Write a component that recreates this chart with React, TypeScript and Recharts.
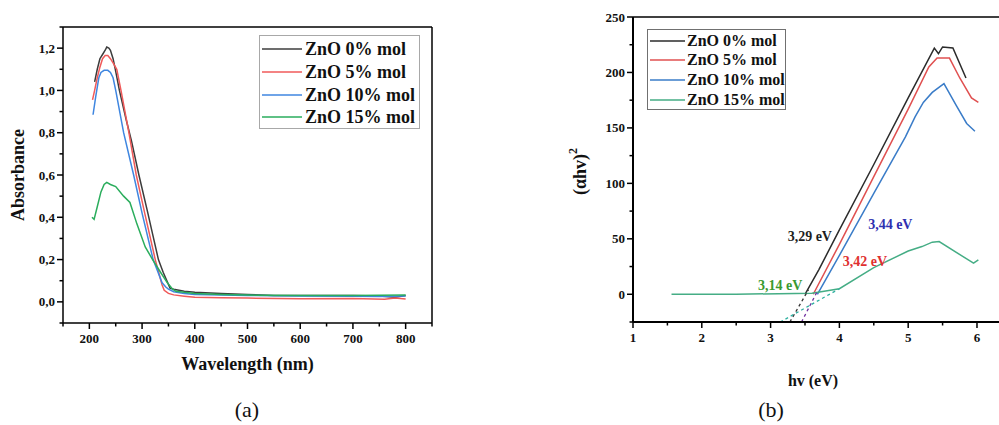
import React from 'react';
import { LineChart, Line, XAxis, YAxis, Legend, ReferenceDot } from 'recharts';

const FONT = "'Liberation Serif', 'Times New Roman', Times, serif";

// ---------- Panel (a): Absorbance vs wavelength ----------
const namesA = ['ZnO 0% mol', 'ZnO 5% mol', 'ZnO 10% mol', 'ZnO 15% mol'];
const colorsA = ['#3c3c3c', '#f05a5a', '#3f86e0', '#2aad5c'];

const wl0 = [210, 215, 220, 225, 230, 233, 237, 240, 245, 250, 257, 270, 280, 294, 310, 320, 331, 340, 353, 360, 370, 380, 400, 450, 500, 550, 600, 650, 700, 750, 780, 800];
const abs0 = [1.04, 1.1, 1.15, 1.17, 1.19, 1.205, 1.2, 1.19, 1.15, 1.09, 1.0, 0.86, 0.76, 0.6, 0.43, 0.32, 0.2, 0.14, 0.065, 0.06, 0.055, 0.05, 0.045, 0.04, 0.035, 0.03, 0.03, 0.03, 0.03, 0.028, 0.022, 0.03];

const wl5 = [206, 210, 215, 220, 225, 230, 235, 240, 245, 252, 260, 275, 289, 305, 325, 338, 342, 350, 360, 380, 400, 450, 500, 600, 700, 760, 780, 800];
const abs5 = [0.955, 1.0, 1.06, 1.11, 1.15, 1.165, 1.165, 1.15, 1.13, 1.1, 1.0, 0.8, 0.6, 0.42, 0.2, 0.08, 0.055, 0.04, 0.033, 0.027, 0.022, 0.02, 0.018, 0.015, 0.016, 0.012, 0.018, 0.013];

const wl10 = [207, 212, 218, 222, 228, 235, 240, 245, 250, 265, 284, 300, 321, 338, 345, 350, 360, 380, 400, 450, 500, 600, 700, 750, 800];
const abs10 = [0.885, 0.97, 1.06, 1.085, 1.095, 1.095, 1.085, 1.06, 1.0, 0.8, 0.6, 0.42, 0.2, 0.09, 0.07, 0.06, 0.048, 0.04, 0.035, 0.033, 0.03, 0.028, 0.027, 0.025, 0.028];

const wl15 = [205, 209, 215, 222, 228, 233, 240, 250, 265, 277, 290, 306, 320, 335, 348, 358, 364, 380, 400, 450, 500, 600, 700, 800];
const abs15 = [0.4, 0.39, 0.45, 0.52, 0.555, 0.565, 0.555, 0.545, 0.5, 0.47, 0.37, 0.26, 0.2, 0.14, 0.09, 0.06, 0.05, 0.045, 0.04, 0.035, 0.032, 0.03, 0.03, 0.032];

const xMajorA = [200, 300, 400, 500, 600, 700, 800];
const xMinorA = [150, 250, 350, 450, 550, 650, 750, 850];
const yMajorA = [0, 0.2, 0.4, 0.6, 0.8, 1.0, 1.2];
const yMinorA = [-0.1, 0.1, 0.3, 0.5, 0.7, 0.9, 1.1, 1.3];

// ---------- Panel (b): Tauc plot ----------
const namesB = ['ZnO 0% mol', 'ZnO 5% mol', 'ZnO 10% mol', 'ZnO 15% mol'];
const colorsB = ['#2b2b2b', '#e05050', '#3a7cc8', '#45ad85'];

const hv0 = [3.5, 3.7, 4.0, 4.5, 5.0, 5.38, 5.44, 5.5, 5.65, 5.84];
const ah0 = [0, 22, 58, 117, 177, 222, 217, 223, 222, 195];

const hv5 = [3.62, 4.0, 4.5, 5.0, 5.3, 5.42, 5.6, 5.75, 5.92, 6.02];
const ah5 = [0, 45, 106, 167, 205, 213, 213, 195, 177, 173];

const hv10 = [3.68, 4.0, 4.5, 4.96, 5.1, 5.22, 5.35, 5.52, 5.7, 5.85, 5.97];
const ah10 = [0, 35, 91, 142, 160, 173, 182, 190, 170, 154, 147];

const hv15 = [1.56, 2.5, 3.6, 3.8, 4.0, 4.5, 5.0, 5.2, 5.35, 5.45, 5.95, 6.02];
const ah15 = [0, 0, 1, 3, 5, 24, 39, 43, 47, 47.5, 28, 31];

const fitHv0 = [3.28, 3.55];
const fitAh0 = [-25, 4];
const fitHv5 = [3.45, 3.69];
const fitAh5 = [-25, 4];
const fitHv15 = [3.14, 4.0];
const fitAh15 = [-25, 5];

const gapLabels = ['3,29 eV', '3,44 eV', '3,42 eV', '3,14 eV'];
const gapLabelHv = [3.57, 4.74, 4.37, 3.14];
const gapLabelAh = [52, 63, 30, 8];
const gapLabelColors = ['#1e1e1e', '#3030b0', '#e03030', '#3a9a30'];

const xMajorB = [1, 2, 3, 4, 5, 6];
const xMinorB = [1.5, 2.5, 3.5, 4.5, 5.5];
const yMajorB = [0, 50, 100, 150, 200, 250];
const yMinorB = [-25, 25, 75, 125, 175, 225];

const toPts = (xs: number[], ys: number[]) => xs.map((x, i) => ({ x, y: ys[i] }));

const dataA = [toPts(wl0, abs0), toPts(wl5, abs5), toPts(wl10, abs10), toPts(wl15, abs15)];
const dataB = [toPts(hv0, ah0), toPts(hv5, ah5), toPts(hv10, ah10), toPts(hv15, ah15)];
const fitB = [
  { pts: toPts(fitHv0, fitAh0), color: '#333333' },
  { pts: toPts(fitHv5, fitAh5), color: '#7030a0' },
  { pts: toPts(fitHv15, fitAh15), color: '#2fb0a0' },
];

const isIn = (arr: number[], v: number) => arr.some((m) => Math.abs(m - v) < 1e-9);

const makeBottomTick = (majors: number[], fmt: (v: number) => string) => (props: any) => {
  const { x, y, payload } = props;
  const major = isIn(majors, payload.value);
  return (
    <g>
      <line x1={x} x2={x} y1={y} y2={y + (major ? 6 : 3.5)} stroke="#000" strokeWidth={1.5} />
      {major && (
        <text x={x} y={y + 15} textAnchor="middle" dominantBaseline="central" fontFamily={FONT} fontWeight="bold" fontSize={13} fill="#111">
          {fmt(payload.value)}
        </text>
      )}
    </g>
  );
};

const makeLeftTick = (majors: number[], fmt: (v: number) => string) => (props: any) => {
  const { x, y, payload } = props;
  const major = isIn(majors, payload.value);
  return (
    <g>
      <line x1={x} x2={x - (major ? 6 : 3.5)} y1={y} y2={y} stroke="#000" strokeWidth={1.5} />
      {major && (
        <text x={x - 8} y={y} textAnchor="end" dominantBaseline="central" fontFamily={FONT} fontWeight="bold" fontSize={13} fill="#111">
          {fmt(payload.value)}
        </text>
      )}
    </g>
  );
};

const makeLegend = (order: string[], opts: { rowH: number; padTop: number; lineLen: number; fontSize: number; border: string; width: number; height: number; gap: number }) =>
  (props: any) => {
    const items = (props.payload || [])
      .filter((p: any) => p.type !== 'none' && order.includes(p.value))
      .sort((a: any, b: any) => order.indexOf(a.value) - order.indexOf(b.value));
    return (
      <div
        style={{
          boxSizing: 'border-box',
          width: opts.width,
          height: opts.height,
          border: `1.5px solid ${opts.border}`,
          paddingTop: opts.padTop,
          background: '#fff',
        }}
      >
        {items.map((it: any) => (
          <div key={it.value} style={{ display: 'flex', alignItems: 'center', height: opts.rowH }}>
            <svg width={opts.lineLen + 3} height={4} style={{ display: 'block', flex: 'none' }}>
              <line x1={2} x2={opts.lineLen + 2} y1={2} y2={2} stroke={it.color} strokeWidth={1.5} />
            </svg>
            <span
              style={{
                marginLeft: opts.gap,
                fontFamily: FONT,
                fontWeight: 'bold',
                fontSize: opts.fontSize,
                color: '#111',
                whiteSpace: 'nowrap',
                lineHeight: 1,
              }}
            >
              {it.value}
            </span>
          </div>
        ))}
      </div>
    );
  };

const fmtA = (v: number) => v.toFixed(1).replace('.', ',');
const fmtB = (v: number) => String(v);

const LegendA = makeLegend(namesA, { rowH: 22.7, padTop: 2, lineLen: 40, fontSize: 18, border: '#a8a8a8', width: 161, height: 94, gap: 2 });
const LegendB = makeLegend(namesB, { rowH: 19.6, padTop: 1, lineLen: 35, fontSize: 16, border: '#707070', width: 139, height: 81, gap: 1 });

const ChartA = () => (
  <LineChart width={450} height={425} margin={{ top: 26, right: 17, bottom: 0, left: 0 }}>
    <XAxis
      dataKey="x"
      type="number"
      domain={[150, 850]}
      allowDataOverflow
      ticks={[...xMajorA, ...xMinorA].sort((a, b) => a - b)}
      interval={0}
      tickSize={0}
      tickMargin={0}
      height={102}
      tick={makeBottomTick(xMajorA, (v) => String(v))}
      tickLine={false}
      axisLine={{ stroke: '#000', strokeWidth: 1.5 }}
      label={{
        content: (p: any) => {
          const vb = p.viewBox;
          return (
            <text x={vb.x + vb.width / 2} y={vb.y + 41} textAnchor="middle" dominantBaseline="central" fontFamily={FONT} fontWeight="bold" fontSize={18} fill="#111">
              Wavelength (nm)
            </text>
          );
        },
      }}
    />
    <XAxis xAxisId="top" orientation="top" type="number" domain={[150, 850]} height={1} tick={false} tickLine={false} axisLine={{ stroke: '#000', strokeWidth: 1.5 }} />
    <YAxis
      type="number"
      domain={[-0.1, 1.3]}
      allowDataOverflow
      ticks={[...yMajorA, ...yMinorA].sort((a, b) => a - b)}
      interval={0}
      tickSize={0}
      tickMargin={0}
      width={63}
      tick={makeLeftTick(yMajorA, fmtA)}
      tickLine={false}
      axisLine={{ stroke: '#000', strokeWidth: 1.5 }}
      label={{
        content: (p: any) => {
          const vb = p.viewBox;
          const cx = vb.x + 18;
          const cy = vb.y + vb.height / 2;
          return (
            <text x={cx} y={cy} transform={`rotate(-90 ${cx} ${cy})`} textAnchor="middle" dominantBaseline="central" fontFamily={FONT} fontWeight="bold" fontSize={18} fill="#111">
              Absorbance
            </text>
          );
        },
      }}
    />
    <YAxis yAxisId="right" orientation="right" type="number" domain={[-0.1, 1.3]} width={1} tick={false} tickLine={false} axisLine={{ stroke: '#000', strokeWidth: 1.5 }} />
    {dataA.map((d, i) => (
      <Line key={namesA[i]} data={d} dataKey="y" name={namesA[i]} type="linear" stroke={colorsA[i]} strokeWidth={1.5} dot={false} activeDot={false} isAnimationActive={false} />
    ))}
    <Legend layout="vertical" align="center" verticalAlign="middle" content={LegendA} wrapperStyle={{ left: 259, top: 35, width: 161, height: 94 }} />
  </LineChart>
);

const ChartB = () => (
  <LineChart width={479} height={425} margin={{ top: 16, right: 0, bottom: 0, left: 0 }}>
    <XAxis
      dataKey="x"
      type="number"
      domain={[1, 6.32]}
      allowDataOverflow
      ticks={[...xMajorB, ...xMinorB].sort((a, b) => a - b)}
      interval={0}
      tickSize={0}
      tickMargin={0}
      height={103}
      tick={makeBottomTick(xMajorB, fmtB)}
      tickLine={false}
      axisLine={{ stroke: '#000', strokeWidth: 2 }}
      label={{
        content: (p: any) => {
          const vb = p.viewBox;
          return (
            <text x={vb.x + vb.width / 2 - 3} y={vb.y + 58} textAnchor="middle" dominantBaseline="central" fontFamily={FONT} fontWeight="bold" fontSize={16} fill="#111">
              hv (eV)
            </text>
          );
        },
      }}
    />
    <XAxis xAxisId="top" orientation="top" type="number" domain={[1, 6.32]} height={1} tick={false} tickLine={false} axisLine={{ stroke: '#000', strokeWidth: 1.5 }} />
    <YAxis
      type="number"
      domain={[-25, 250]}
      allowDataOverflow
      ticks={[...yMajorB, ...yMinorB].sort((a, b) => a - b)}
      interval={0}
      tickSize={0}
      tickMargin={0}
      width={113}
      tick={makeLeftTick(yMajorB, fmtB)}
      tickLine={false}
      axisLine={{ stroke: '#000', strokeWidth: 2 }}
      label={{
        content: (p: any) => {
          const vb = p.viewBox;
          const cx = vb.x + 60;
          const cy = vb.y + vb.height / 2 + 2;
          return (
            <text x={cx} y={cy} transform={`rotate(-90 ${cx} ${cy})`} textAnchor="middle" dominantBaseline="central" fontFamily={FONT} fontWeight="bold" fontSize={18} fill="#111">
              (αhv)
              <tspan dy={-7} fontSize={12}>2</tspan>
            </text>
          );
        },
      }}
    />
    {dataB.map((d, i) => (
      <Line key={namesB[i]} data={d} dataKey="y" name={namesB[i]} type="linear" stroke={colorsB[i]} strokeWidth={1.5} dot={false} activeDot={false} isAnimationActive={false} />
    ))}
    {fitB.map((f, i) => (
      <Line key={'fit' + i} data={f.pts} dataKey="y" name={'fit' + i} legendType="none" type="linear" stroke={f.color} strokeWidth={1.3} strokeDasharray="3 3" dot={false} activeDot={false} isAnimationActive={false} />
    ))}
    {gapLabels.map((t, i) => (
      <ReferenceDot
        key={t}
        x={gapLabelHv[i]}
        y={gapLabelAh[i]}
        r={0}
        shape={(p: any) => (
          <text x={p.cx} y={p.cy} textAnchor="middle" dominantBaseline="central" fontFamily={FONT} fontWeight="bold" fontSize={14} fill={gapLabelColors[i]}>
            {t}
          </text>
        )}
      />
    ))}
    <Legend layout="vertical" align="center" verticalAlign="middle" content={LegendB} wrapperStyle={{ left: 127, top: 29, width: 139, height: 81 }} />
  </LineChart>
);

export default function App() {
  return (
    <div style={{ position: 'absolute', left: 0, top: 0, width: 999, height: 425, background: '#fff', overflow: 'hidden' }}>
      <div style={{ position: 'absolute', left: 0, top: 0 }}>
        <ChartA />
      </div>
      <div style={{ position: 'absolute', left: 520, top: 0 }}>
        <ChartB />
      </div>
      <div style={{ position: 'absolute', left: 197, top: 396, width: 100, textAlign: 'center', fontFamily: FONT, fontSize: 22, lineHeight: '28px', color: '#111' }}>(a)</div>
      <div style={{ position: 'absolute', left: 721, top: 396, width: 100, textAlign: 'center', fontFamily: FONT, fontSize: 22, lineHeight: '28px', color: '#111' }}>(b)</div>
    </div>
  );
}
